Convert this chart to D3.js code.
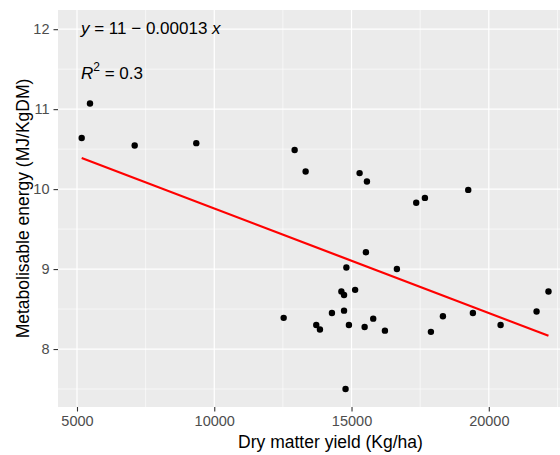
<!DOCTYPE html>
<html>
<head>
<meta charset="utf-8">
<script src="https://cdn.jsdelivr.net/npm/d3@7"></script>
<style>
  body { margin: 0; background: #fff; }
  text { font-family: "Liberation Sans", Arial, sans-serif; }
</style>
</head>
<body>
<div id="chart"></div>
<script>
// data
const yieldKg = [5171, 5473, 7101, 9345, 12928, 13328, 15294, 15561, 17356, 17673, 19251,
  15524, 14812, 16653, 14630, 14727, 15131, 22174, 12528, 14286, 14727, 13715, 13849,
  14905, 15477, 15790, 16217, 17892, 18329, 19421, 20430, 21740, 14782];
const energy = [10.64, 11.07, 10.545, 10.575, 10.49, 10.22, 10.20, 10.095, 9.83, 9.89, 9.99,
  9.21, 9.02, 9.00, 8.72, 8.675, 8.74, 8.72, 8.39, 8.45, 8.48, 8.30, 8.245,
  8.30, 8.275, 8.38, 8.23, 8.215, 8.41, 8.45, 8.30, 8.47, 7.50];

// fitted line ends
const fitX = [5171, 22174];
const fitY = [10.39, 8.165];

const xTicks = [5000, 10000, 15000, 20000];
const yTicks = [8, 9, 10, 11, 12];
const xMinor = [7500, 12500, 17500, 22500];
const yMinor = [7.5, 8.5, 9.5, 10.5, 11.5];

const w = 560, h = 455;
const pLeft = 58, pTop = 10, pBottom = 407, pRight = 603;

const svg = d3.select("#chart").append("svg")
  .attr("width", w)
  .attr("height", h);

let x = d3.scaleLinear().domain([4308, 24160]).range([pLeft, pRight]);
let y = d3.scaleLinear().domain([7.275, 12.24]).range([pBottom, pTop]);

svg.append("rect")
  .attr("x", pLeft).attr("y", pTop)
  .attr("width", pRight - pLeft).attr("height", pBottom - pTop)
  .attr("fill", "#EBEBEB");

// grid
svg.selectAll(".ymin").data(yMinor).enter().append("line")
  .attr("x1", pLeft).attr("x2", pRight)
  .attr("y1", d => y(d)).attr("y2", d => y(d))
  .attr("stroke", "#fff").attr("stroke-width", 0.6);
svg.selectAll(".xmin").data(xMinor).enter().append("line")
  .attr("y1", pTop).attr("y2", pBottom)
  .attr("x1", d => x(d)).attr("x2", d => x(d))
  .attr("stroke", "#fff").attr("stroke-width", 0.6);
svg.selectAll(".ymaj").data(yTicks).enter().append("line")
  .attr("x1", pLeft).attr("x2", pRight)
  .attr("y1", d => y(d)).attr("y2", d => y(d))
  .attr("stroke", "#fff").attr("stroke-width", 1.2);
svg.selectAll(".xmaj").data(xTicks).enter().append("line")
  .attr("y1", pTop).attr("y2", pBottom)
  .attr("x1", d => x(d)).attr("x2", d => x(d))
  .attr("stroke", "#fff").attr("stroke-width", 1.2);

// axes
let xAxis = d3.axisBottom(x).tickValues(xTicks).tickSize(4.5).tickPadding(4).tickFormat(d3.format("d"));
let yAxis = d3.axisLeft(y).tickValues(yTicks).tickSize(4.5).tickPadding(4).tickFormat(d3.format("d"));

let gx = svg.append("g").attr("transform", `translate(0, ${pBottom})`).call(xAxis);
let gy = svg.append("g").attr("transform", `translate(${pLeft}, 0)`).call(yAxis);
[gx, gy].forEach(g => {
  g.select(".domain").remove();
  g.selectAll(".tick line").attr("stroke", "#333333").attr("stroke-width", 1.1);
  g.selectAll(".tick text")
    .attr("fill", "#4D4D4D")
    .style("font-size", "14.5px")
    .style("font-family", "'Liberation Sans', Arial, sans-serif");
});

// points
svg.selectAll("circle").data(yieldKg).enter().append("circle")
  .attr("cx", d => x(d))
  .attr("cy", (d, i) => y(energy[i]))
  .attr("r", 3.2)
  .attr("fill", "#000");

// fit line
let line = d3.line().x(d => x(d[0])).y(d => y(d[1]));
svg.append("path")
  .datum(fitX.map((d, i) => [d, fitY[i]]))
  .attr("d", line)
  .attr("stroke", "#FF0000")
  .attr("stroke-width", 2.2)
  .attr("fill", "none");

// equation labels
let eq = svg.append("text")
  .attr("x", 81).attr("y", 34)
  .style("font-size", "17px");
eq.append("tspan").style("font-style", "italic").text("y");
eq.append("tspan").text(" = 11 \u2212 0.00013 ");
eq.append("tspan").style("font-style", "italic").text("x");

let r2 = svg.append("text")
  .attr("x", 81).attr("y", 79)
  .style("font-size", "17px");
r2.append("tspan").style("font-style", "italic").text("R");
r2.append("tspan").attr("dy", -8).style("font-size", "12px").text("2");
r2.append("tspan").attr("dy", 8).text(" = 0.3");

// axis titles
svg.append("text")
  .attr("x", (pLeft + pRight) / 2).attr("y", 448)
  .attr("text-anchor", "middle")
  .style("font-size", "17.5px")
  .text("Dry matter yield (Kg/ha)");

svg.append("text")
  .attr("transform", `translate(29, ${(pTop + pBottom) / 2}) rotate(-90)`)
  .attr("text-anchor", "middle")
  .style("font-size", "17.5px")
  .text("Metabolisable energy (MJ/KgDM)");
</script>
</body>
</html>
